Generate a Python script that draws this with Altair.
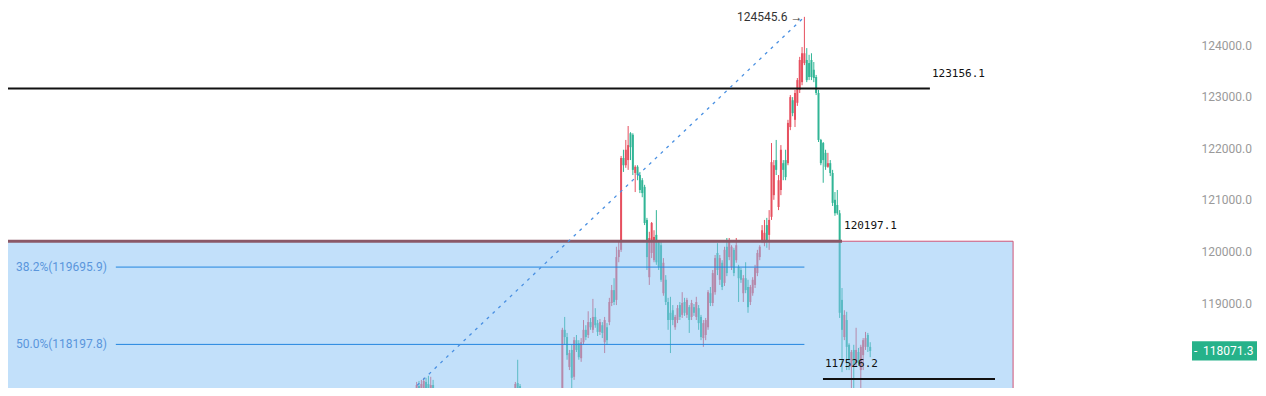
import altair as alt
import pandas as pd

# ---------------- data ----------------
# candle runs: first bar index and number of candles in each visible run
RUN_STARTS = [239, 281, 300]
RUN_LENGTHS = [8, 4, 133]

OPEN = [
    117120, 117390, 117160, 117310, 117470, 117430, 117220, 117410,
    117120, 117450, 117390, 117220,
    117120, 117200, 118480, 118340, 117760, 118090, 117570, 118280, 118220, 117930,
    118240, 118480, 118380, 118630, 118480, 118730, 118610, 118440, 118570, 118240,
    118530, 118630, 119000, 119250, 119060, 119890, 120030, 121810, 121670, 121770,
    122290, 122260, 121520, 121640, 121480, 121380, 121250, 120610, 119500, 119970,
    119830, 120320, 120180, 120120, 119190, 119450, 119020, 118810, 118860, 118530,
    118670, 118960, 118770, 119020, 118770, 118920, 118730, 118920, 118730, 118900,
    118730, 118320, 118380, 118530, 119190, 119000, 119210, 119970, 119450, 119780,
    119390, 120090, 119890, 119700, 120030, 119830, 119700, 119640, 119190, 119480,
    119310, 119020, 119190, 119350, 119580, 119890, 120220, 120160, 120510, 120320,
    120670, 121090, 121770, 120860, 121190, 121710, 121770, 121710, 122410, 122930,
    122550, 122880, 123130, 123280, 123650, 123710, 123650, 123710, 123520, 123380,
    123070, 122160, 122100, 121910, 121640, 121710, 121520, 121000, 120900, 120740,
    119060, 118340, 118670, 118190, 117760, 118090, 117840, 118050, 117700, 117990,
    118150, 118380, 118150,
]
HIGH = [
    117470, 117490, 117510, 117550, 117550, 117590, 117570, 117510,
    117470, 117900, 117430, 117310,
    117310, 118520, 118730, 118420, 118090, 118190, 118340, 118380, 118280, 118320,
    118670, 118570, 118840, 118710, 119080, 118900, 118670, 118690, 118630, 118730,
    118610, 119100, 119350, 119480, 120090, 120220, 121850, 121970, 122160, 122430,
    122310, 122290, 121670, 121670, 121540, 121420, 121290, 120650, 120380, 120570,
    120410, 120800, 120220, 120220, 119870, 119540, 119100, 119120, 118960, 118770,
    118960, 119020, 119210, 119100, 119100, 118960, 119060, 118980, 119120, 118960,
    118770, 118670, 118710, 119250, 119310, 119640, 119930, 120160, 119930, 119830,
    120090, 120260, 120260, 120120, 120070, 120260, 119740, 119680, 119540, 119790,
    119450, 119350, 119500, 119740, 120030, 120120, 120510, 120610, 120650, 120800,
    122100, 121770, 122160, 121480, 122060, 121770, 121970, 122550, 123030, 122990,
    123130, 123360, 123770, 123960, 124545.6, 123940, 123810, 123840, 123670, 123420,
    123130, 122180, 122120, 121970, 121910, 121770, 121580, 121150, 121190, 120800,
    119290, 118860, 118830, 118220, 118090, 118190, 118520, 118130, 118190, 118320,
    118440, 118420, 118240,
]
LOW = [
    116930, 117120, 117020, 117120, 117160, 117080, 117120, 117020,
    117020, 117200, 117080, 117000,
    117020, 117160, 118190, 117900, 117700, 117350, 117510, 118050, 117900, 117860,
    118190, 118280, 118320, 118480, 118420, 118520, 118360, 118380, 118320, 118030,
    118190, 118570, 118940, 118960, 118960, 119790, 119990, 121540, 121620, 121580,
    121770, 121480, 121150, 121380, 121130, 121050, 120510, 119640, 119350, 119870,
    119790, 119740, 119640, 119410, 119140, 118960, 118480, 118030, 118570, 118480,
    118610, 118670, 118710, 118750, 118710, 118420, 118670, 118750, 118670, 118480,
    118280, 118150, 118280, 118480, 118940, 118940, 119160, 119540, 119350, 119250,
    119330, 119520, 119830, 119640, 119520, 119780, 119020, 119390, 119020, 119190,
    118810, 118960, 119140, 119290, 119520, 119830, 120160, 120100, 120070, 120030,
    120610, 121000, 121480, 120800, 121090, 121380, 121380, 121670, 122350, 122620,
    122410, 122820, 123070, 123220, 123610, 123280, 123320, 123320, 123280, 123030,
    122120, 121670, 121330, 121580, 121620, 121460, 120880, 120690, 120710, 118710,
    117660, 118280, 117700, 117700, 117280, 117260, 117780, 117780, 117260, 117700,
    118090, 118050, 117950,
]
CLOSE = [
    117410, 117280, 117430, 117490, 117310, 117240, 117410, 117120,
    117430, 117350, 117200, 117080,
    117260, 118480, 118340, 117990, 118030, 117550, 118280, 118090, 117950, 118240,
    118480, 118340, 118630, 118530, 118730, 118570, 118440, 118630, 118420, 118670,
    118280, 119020, 119250, 119020, 119890, 120030, 121810, 121670, 121970, 122060,
    122020, 121580, 121640, 121480, 121190, 121130, 120550, 119890, 120260, 120550,
    120280, 119790, 119700, 119450, 119780, 119020, 118670, 118670, 118670, 118730,
    118900, 118730, 119000, 118810, 119060, 118670, 119000, 118810, 119020, 118610,
    118340, 118610, 118670, 119210, 119000, 119580, 119870, 119640, 119870, 119310,
    120030, 119580, 120220, 120090, 119580, 120120, 119480, 119450, 119480, 119250,
    118920, 119310, 119450, 119680, 119970, 120090, 120410, 120360, 120220, 120610,
    121730, 121670, 121580, 121380, 121970, 121580, 121440, 122490, 122990, 122680,
    123070, 123320, 123710, 123840, 123840, 123320, 123380, 123380, 123360, 123070,
    122160, 121710, 121770, 121640, 121710, 121520, 120940, 120740, 120740, 118810,
    118480, 118770, 118150, 117900, 118050, 117800, 118090, 117840, 118150, 118280,
    118320, 118150, 118071.3,
]

# drawing levels
LEVEL_TOP = 123156.1
LEVEL_BOX = 120197.1
LEVEL_LOW = 117526.2
PEAK = 124545.6
SWING_LOW = 111850.0
LAST_PRICE = 118071.3
FIB_LEVELS = [119695.9, 118197.8]
FIB_LABELS = ["38.2%(119695.9)", "50.0%(118197.8)"]
Y_TICKS = [119000, 120000, 121000, 122000, 123000, 124000]

# bar positions of the drawings
PEAK_BAR = 404
LOW_BAR = 111
LEFT_BAR = 40
TOP_LINE_END = 457.4
BOX_LINE_END = 420.0
BOX_RIGHT = 492.8
LOW_LINE = [411.9, 485.1]

# ---------------- layout ----------------
W, H = 1162, 380
X_MIN, X_MAX = 65.11, 559.57
Y_MIN, Y_MAX = 117352.7, 124717.1

RED = "#e6505f"
TEAL = "#31b596"

xs = alt.Scale(domain=[X_MIN, X_MAX], nice=False, zero=False)
ys = alt.Scale(domain=[Y_MIN, Y_MAX], nice=False, zero=False)
y_axis = alt.Axis(orient="right", values=Y_TICKS, format=".1f", labelColor="#9a9a9a",
                  labelFont="Roboto", labelFontSize=12, domain=False, ticks=False,
                  grid=False, labelPadding=31, title=None)


def X(field):
    return alt.X(field, type="quantitative", scale=xs, axis=None)


def Y(field):
    return alt.Y(field, type="quantitative", scale=ys, axis=y_axis)


bars = []
for s, n in zip(RUN_STARTS, RUN_LENGTHS):
    bars += list(range(s, s + n))
candles = pd.DataFrame({"bar": bars, "open": OPEN, "high": HIGH, "low": LOW, "close": CLOSE})
candles["dir"] = ["up" if c >= o else "down" for o, c in zip(candles["open"], candles["close"])]

color = alt.Color("dir:N", scale=alt.Scale(domain=["up", "down"], range=[RED, TEAL]), legend=None)

wicks = alt.Chart(candles).mark_rule(strokeWidth=1, clip=True).encode(
    x=X("bar"), y=Y("low"), y2="high", color=color)
bodies = alt.Chart(candles).mark_rule(strokeWidth=2, clip=True).encode(
    x=X("bar"), y=Y("open"), y2="close", color=color)

box_df = pd.DataFrame({"x0": [LEFT_BAR], "x1": [BOX_RIGHT], "top": [LEVEL_BOX], "bot": [SWING_LOW]})
box = alt.Chart(box_df).mark_rect(fill="#85c1f5", fillOpacity=0.5, stroke="#cf5577",
                                  strokeWidth=1, clip=True).encode(
    x=X("x0"), x2="x1", y=Y("top"), y2="bot")

box_line = alt.Chart(pd.DataFrame({"x0": [LEFT_BAR], "x1": [BOX_LINE_END], "p": [LEVEL_BOX]})).mark_rule(
    color="#8a5867", strokeWidth=3, clip=True).encode(x=X("x0"), x2="x1", y=Y("p"))

fib_df = pd.DataFrame({"x0": [LOW_BAR] * 2, "x1": [PEAK_BAR] * 2, "p": FIB_LEVELS, "label": FIB_LABELS})
fib_lines = alt.Chart(fib_df).mark_rule(color="#2386df", strokeWidth=1, clip=True).encode(
    x=X("x0"), x2="x1", y=Y("p"))
fib_text = alt.Chart(fib_df).mark_text(align="right", baseline="middle", dx=-9, font="Roboto",
                                       fontSize=12, color="#5a96dc").encode(
    x=X("x0"), y=Y("p"), text="label:N")

black_df = pd.DataFrame({"x0": [LEFT_BAR, LOW_LINE[0]], "x1": [TOP_LINE_END, LOW_LINE[1]],
                         "p": [LEVEL_TOP, LEVEL_LOW]})
black_lines = alt.Chart(black_df).mark_rule(color="#111111", strokeWidth=2, clip=True).encode(
    x=X("x0"), x2="x1", y=Y("p"))

lvl_df = pd.DataFrame({"x": [TOP_LINE_END, BOX_LINE_END, LOW_LINE[0]],
                       "p": [LEVEL_TOP, LEVEL_BOX, LEVEL_LOW],
                       "label": [f"{LEVEL_TOP:.1f}", f"{LEVEL_BOX:.1f}", f"{LEVEL_LOW:.1f}"]})
lvl_text = alt.Chart(lvl_df).mark_text(align="left", baseline="alphabetic", dx=2, dy=-12,
                                       font="DejaVu Sans Mono", fontSize=11, color="#111111").encode(
    x=X("x"), y=Y("p"), text="label:N")

diag_df = pd.DataFrame({"bar": [LOW_BAR, PEAK_BAR], "p": [SWING_LOW, PEAK]})
diag = alt.Chart(diag_df).mark_line(color="#4a90e2", strokeWidth=1.3, strokeDash=[3, 5], clip=True).encode(
    x=X("bar"), y=Y("p"))

peak_text = alt.Chart(pd.DataFrame({"bar": [PEAK_BAR], "p": [PEAK], "label": [f"{PEAK:.1f} →"]})).mark_text(
    align="right", baseline="middle", dx=-2, font="Roboto", fontSize=12, color="#333333").encode(
    x=X("bar"), y=Y("p"), text="label:N")

# current-price tag on the price axis
px_per_unit = H / (Y_MAX - Y_MIN)
half = 9.7 / px_per_unit
tag_df = pd.DataFrame({"p": [LAST_PRICE], "hi": [LAST_PRICE + half], "lo": [LAST_PRICE - half],
                       "label": [f"{LAST_PRICE:.1f}"]})
tag_rect = alt.Chart(tag_df).mark_rect(color="#26b28a").encode(
    x=alt.value(W + 22), x2=alt.value(W + 87), y=Y("hi"), y2="lo")
tag_dash = alt.Chart(tag_df).mark_text(text="-", align="left", baseline="middle", font="Roboto",
                                       fontSize=12, color="white").encode(
    x=alt.value(W + 24), y=Y("p"))
tag_text = alt.Chart(tag_df).mark_text(align="left", baseline="middle", font="Roboto",
                                       fontSize=12, color="white").encode(
    x=alt.value(W + 33), y=Y("p"), text="label:N")

chart = alt.layer(
    wicks, bodies, box, box_line, fib_lines, fib_text, black_lines, lvl_text, diag, peak_text,
    tag_rect, tag_dash, tag_text,
).properties(width=W, height=H, padding=0, background="white").configure_view(strokeWidth=0)

chart.save("out.html", embed_options={"renderer": "svg", "actions": False})
